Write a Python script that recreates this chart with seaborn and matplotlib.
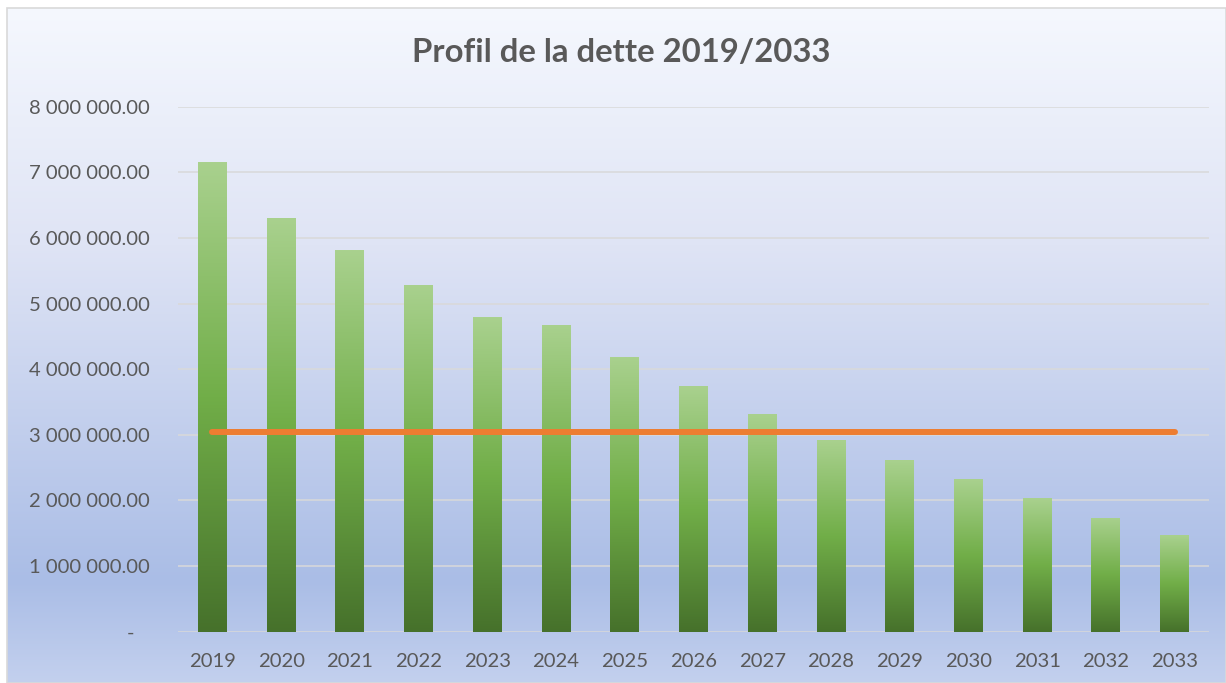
import numpy as np
import pandas as pd
import seaborn as sns
import matplotlib.pyplot as plt
from matplotlib.colors import LinearSegmentedColormap
from matplotlib.ticker import FuncFormatter

# data
years = [str(y) for y in range(2019, 2034)]
dette = [7150000, 6310000, 5810000, 5290000, 4790000, 4680000, 4190000, 3740000,
         3310000, 2920000, 2610000, 2320000, 2030000, 1740000, 1470000]
moyenne = 3050000

df = pd.DataFrame({'annee': years, 'dette': dette})

sns.set_style('white')
plt.rcParams['font.family'] = ['Lato', 'DejaVu Sans']

W, H = 1226, 683
fig = plt.figure(figsize=(W / 100, H / 100), dpi=100)

# chart area background (Excel style gradient)
bg = fig.add_axes([7 / W, 0, 1 - 7 / W, 1 - 8 / H], zorder=0)
bg_cmap = LinearSegmentedColormap.from_list(
    'bg', [(0, '#f5f8fe'), (0.35, '#dfe4f5'), (0.85, '#aabde6'), (1, '#c3d0ee')])
bg.imshow(np.linspace(0, 1, 256).reshape(-1, 1), aspect='auto', cmap=bg_cmap,
          extent=[0, 1, 0, 1], origin='upper')
bg.set_xlim(0, 1)
bg.set_ylim(0, 1)
bg.axis('off')
fig.patches.append(plt.Rectangle((7 / W, 0), 1 - 7 / W, 1 - 8 / H, transform=fig.transFigure,
                                 fill=False, edgecolor='#d9d9d9', lw=1.2, zorder=5))

ax = fig.add_axes([178 / W, 1 - 631.7 / H, (1209 - 178) / W, (631.7 - 106.7) / H], zorder=1)
ax.patch.set_alpha(0)

sns.barplot(data=df, x='annee', y='dette', color='#70ad47', width=0.42, ax=ax,
            linewidth=0, edgecolor='none', zorder=2)

# green gradient inside each bar
bar_cmap = LinearSegmentedColormap.from_list(
    'bar', [(0, '#a9d18e'), (0.5, '#71ae48'), (1, '#46712b')])
grad = np.linspace(0, 1, 256).reshape(-1, 1)
for p in ax.patches:
    x0, y0 = p.get_x(), p.get_y()
    w, h = p.get_width(), p.get_height()
    im = ax.imshow(grad, aspect='auto', cmap=bar_cmap, origin='upper',
                   extent=[x0, x0 + w, y0, y0 + h], zorder=3)
    im.set_clip_path(p)

ax.plot([0, len(years) - 1], [moyenne, moyenne], color='#ed7d31', lw=4.3,
        solid_capstyle='round', zorder=4)

ax.set_xlim(-0.5, len(years) - 0.5)
ax.set_ylim(0, 8000000)
ax.set_yticks(np.arange(0, 8000001, 1000000))
ax.yaxis.set_major_formatter(FuncFormatter(
    lambda v, _: '-   ' if v == 0 else f'{v:,.2f}'.replace(',', ' ')))
ax.grid(axis='y', color='#d9d9d9', lw=1.1, zorder=1)
ax.set_axisbelow(True)
for s in ax.spines.values():
    s.set_visible(False)
ax.tick_params(axis='y', length=0, pad=20, labelsize=14.6, labelcolor='#595959')
ax.tick_params(axis='x', length=0, pad=15, labelsize=14.6, labelcolor='#595959')
ax.set_xlabel('')
ax.set_ylabel('')

fig.text(621 / W, 1 - 52 / H, 'Profil de la dette 2019/2033', ha='center', va='center',
         fontsize=23.7, fontweight='bold', color='#595959')

fig.savefig('out.png', dpi=100)
